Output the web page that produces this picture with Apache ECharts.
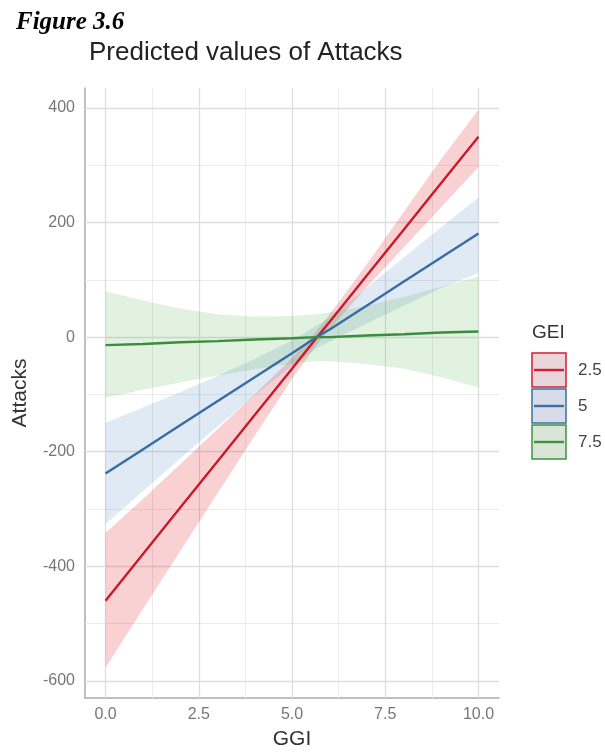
<!DOCTYPE html>
<html>
<head>
<meta charset="utf-8">
<script src="https://cdn.jsdelivr.net/npm/echarts@6/dist/echarts.min.js"></script>
<style>
  html, body { margin: 0; padding: 0; background: #fff; }
  #main { width: 605px; height: 755px; }
</style>
</head>
<body>
<div id="main"></div>
<script>
// GGI values where the predictions were read
const ggi = [0, 1, 2, 3, 4, 5, 5.65, 6, 7, 8, 9, 10];

// GEI = 2.5
const fit25 = [-460, -379, -298, -217, -136, -55, -2, 26, 107, 188, 269, 350];
const lo25 = [-577, -475, -374, -273, -172, -73, -14, 13, 87, 157, 227, 297];
const hi25 = [-342, -283, -222, -161, -100, -37, 10, 39, 127, 219, 311, 397];

// GEI = 5
const fit5 = [-238, -196, -154, -112, -70, -28, 0, 13, 55, 97, 139, 181];
const lo5 = [-326, -269, -212, -156, -102, -50, -20, -8, 24, 55, 86, 112];
const hi5 = [-150, -123, -96, -68, -38, -6, 20, 34, 86, 139, 192, 244];

// GEI = 7.5
const fit75 = [-14, -12, -9, -7, -4, -2, 0, 0, 3, 5, 8, 10];
const lo75 = [-106, -92, -79, -67, -56, -46, -42, -42, -47, -55, -70, -88];
const hi75 = [80, 64, 50, 40, 36, 37, 40, 43, 55, 70, 88, 106];

const xTicks = [0, 2.5, 5, 7.5, 10];
const xMinor = [1.25, 3.75, 6.25, 8.75];
const yTicks = [-600, -400, -200, 0, 200, 400];
const yMinor = [-500, -300, -100, 100, 300];

const groups = ['2.5', '5', '7.5'];

const font = 'Liberation Sans';
let chart = echarts.init(document.getElementById('main'));

function pairs(ys) {
  return ggi.map(function (x, i) { return [x, ys[i]]; });
}

function ribbon(lo, hi, color) {
  return {
    type: 'custom',
    silent: true,
    z: 2,
    data: [[0, 0]],
    renderItem: function (params, api) {
      let pts = [];
      for (let i = 0; i < ggi.length; i++) pts.push(api.coord([ggi[i], hi[i]]));
      for (let i = ggi.length - 1; i >= 0; i--) pts.push(api.coord([ggi[i], lo[i]]));
      return { type: 'polygon', shape: { points: pts }, style: { fill: color } };
    }
  };
}

function line(ys, color) {
  return {
    type: 'line',
    data: pairs(ys),
    showSymbol: false,
    silent: true,
    z: 4,
    lineStyle: { color: color, width: 2.4 }
  };
}

let gridLines = [];
xMinor.forEach(function (v) { gridLines.push({ xAxis: v, lineStyle: { color: '#ebebeb', width: 1, type: 'solid' } }); });
yMinor.forEach(function (v) { gridLines.push({ yAxis: v, lineStyle: { color: '#ebebeb', width: 1, type: 'solid' } }); });
xTicks.forEach(function (v) { gridLines.push({ xAxis: v, lineStyle: { color: '#dedede', width: 1.3, type: 'solid' } }); });
yTicks.forEach(function (v) { gridLines.push({ yAxis: v, lineStyle: { color: '#dedede', width: 1.3, type: 'solid' } }); });

// legend keys
const keyColors = ['#cf1f33', '#3d6fa6', '#3f9140'];
const keyFills = ['#e9d6da', '#d6dde9', '#d9e5d6'];
let legendEls = [{
  type: 'text', left: 532, top: 323,
  style: { text: 'GEI', font: '19px ' + font, fill: '#333' }
}];
groups.forEach(function (g, i) {
  let y = 353 + i * 36;
  legendEls.push({
    type: 'rect', shape: { x: 532, y: y, width: 34, height: 34 },
    style: { fill: keyFills[i], stroke: keyColors[i], lineWidth: 1.5 }
  });
  legendEls.push({
    type: 'line', shape: { x1: 534, y1: y + 17, x2: 564, y2: y + 17 },
    style: { stroke: keyColors[i], lineWidth: 2.4 }
  });
  legendEls.push({
    type: 'text', x: 578, y: y + 17,
    style: { text: g, font: '17px ' + font, fill: '#444', verticalAlign: 'middle' }
  });
});

let option = {
  backgroundColor: '#fff',
  animation: false,
  title: [
    {
      text: 'Figure 3.6',
      left: 11, top: 5,
      textStyle: { fontFamily: 'Liberation Serif', fontStyle: 'italic', fontWeight: 'bold', fontSize: 25, color: '#000' }
    },
    {
      text: 'Predicted values of Attacks',
      left: 84, top: 35,
      textStyle: { fontFamily: font, fontWeight: 'normal', fontSize: 26, color: '#222' }
    }
  ],
  grid: { left: 85, right: 106, top: 88, bottom: 53, containLabel: false },
  xAxis: {
    type: 'value',
    min: -0.55,
    max: 10.55,
    name: 'GGI',
    nameLocation: 'middle',
    nameGap: 31,
    nameTextStyle: { fontFamily: font, fontSize: 21, color: '#333' },
    axisLine: { show: true, onZero: false, lineStyle: { color: '#aaaaaa', width: 1.5 } },
    axisTick: { show: false },
    splitLine: { show: false },
    axisLabel: {
      customValues: xTicks,
      margin: 9,
      fontFamily: font, fontSize: 16, color: '#777',
      formatter: function (v) { return v.toFixed(1); }
    }
  },
  yAxis: {
    type: 'value',
    min: -630,
    max: 435,
    name: 'Attacks',
    nameLocation: 'middle',
    nameGap: 54,
    nameRotate: 90,
    nameTextStyle: { fontFamily: font, fontSize: 21, color: '#333' },
    axisLine: { show: true, onZero: false, lineStyle: { color: '#aaaaaa', width: 1.5 } },
    axisTick: { show: false },
    splitLine: { show: false },
    axisLabel: {
      customValues: yTicks,
      margin: 10,
      fontFamily: font, fontSize: 16, color: '#777'
    }
  },
  graphic: legendEls,
  series: [
    {
      type: 'line',
      data: [[0, 0]],
      showSymbol: false,
      silent: true,
      z: 1,
      lineStyle: { opacity: 0 },
      markLine: {
        silent: true,
        z: 1,
        symbol: 'none',
        label: { show: false },
        emphasis: { disabled: true },
        animation: false,
        data: gridLines
      }
    },
    ribbon(lo25, hi25, 'rgba(228, 26, 28, 0.2)'),
    ribbon(lo5, hi5, 'rgba(55, 126, 184, 0.16)'),
    ribbon(lo75, hi75, 'rgba(77, 175, 74, 0.17)'),
    line(fit25, '#c81a2b'),
    line(fit5, '#3a6ca3'),
    line(fit75, '#3b8c3c')
  ]
};

option && chart.setOption(option);
</script>
</body>
</html>
